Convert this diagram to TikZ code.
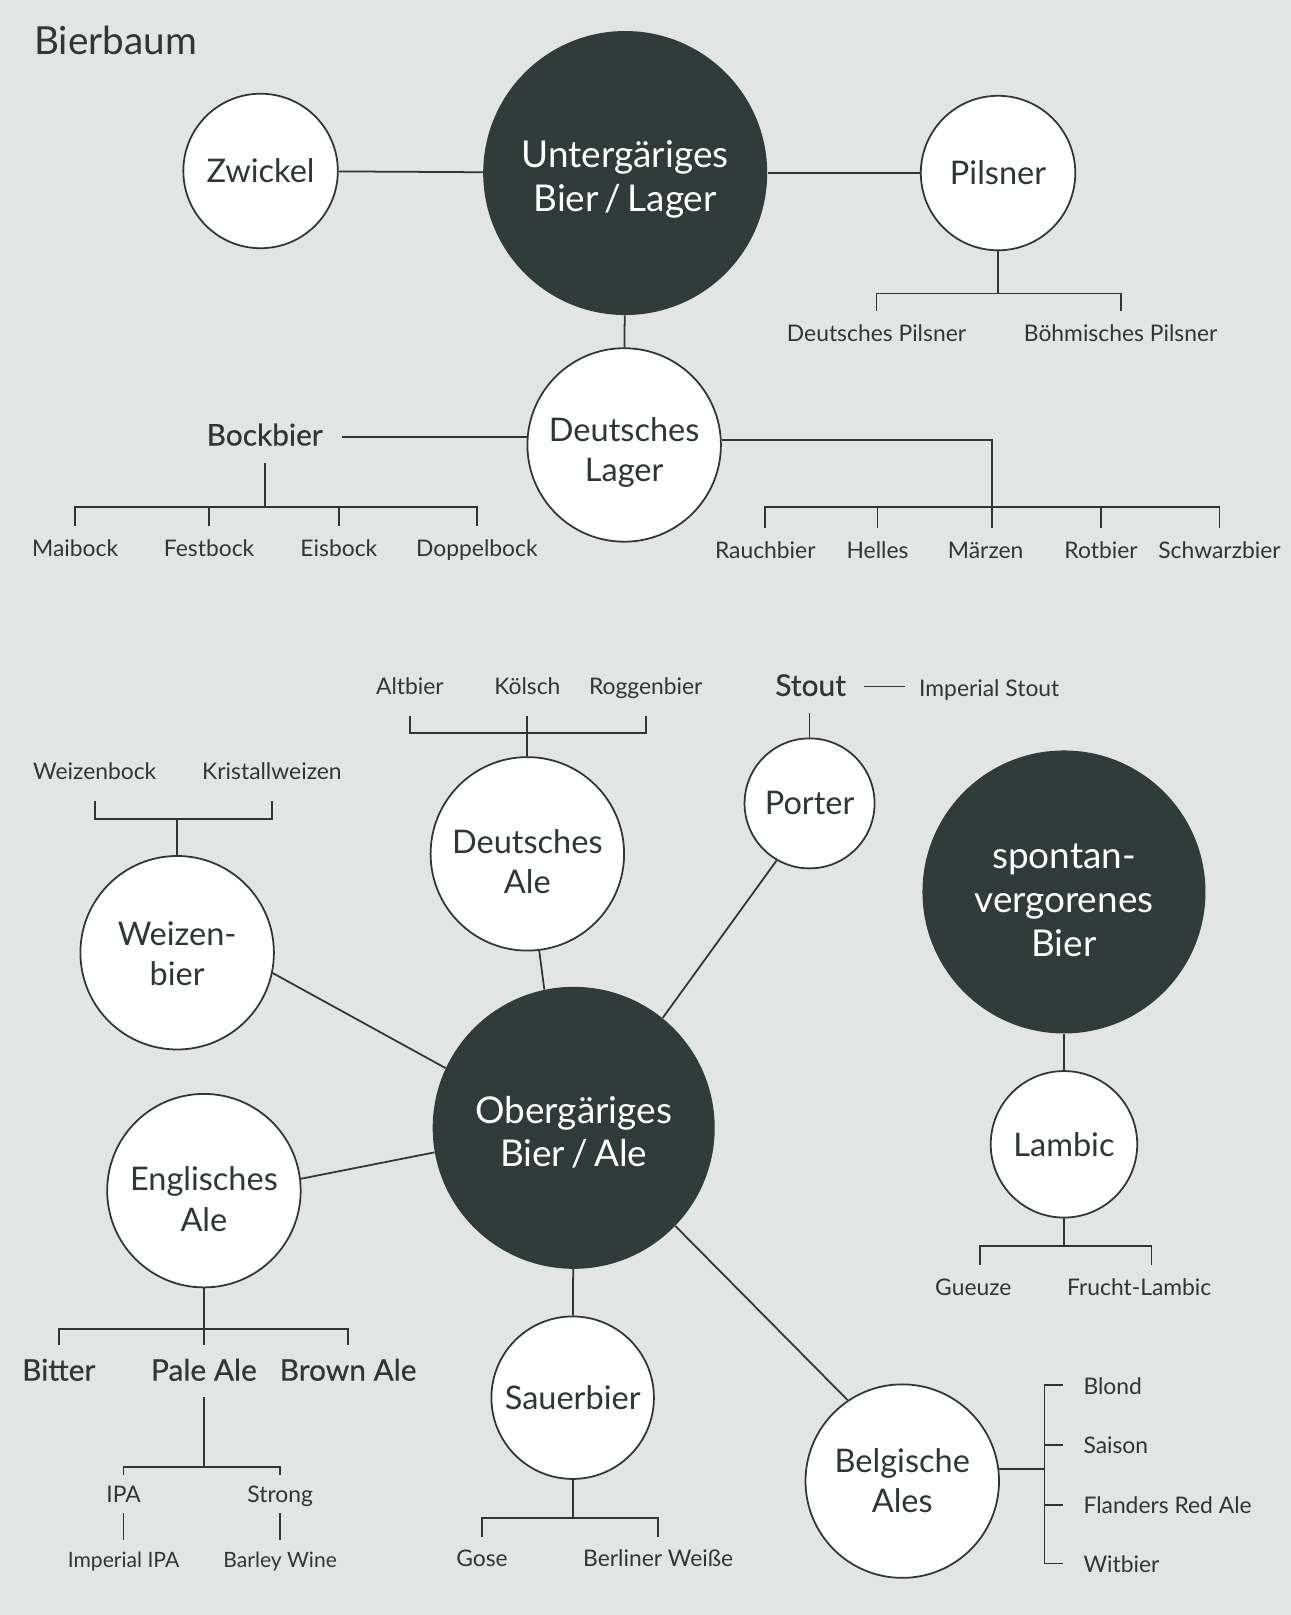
\documentclass[tikz,border=0pt]{standalone}
\usepackage{fontspec}
\setmainfont{Lato}
\newfontfamily\medfont[FakeBold=0.5]{Lato}
\usetikzlibrary{positioning}
\definecolor{ink}{HTML}{2E3735}
\definecolor{darkfill}{HTML}{2F3C3A}
\definecolor{paper}{HTML}{E2E5E4}

\begin{document}
\begin{tikzpicture}[x=0.0206cm,y=-0.0206cm,
      conn/.style={draw=ink,line width=1pt},
      darkcirc/.style={circle,fill=darkfill,text=white,align=center,inner sep=0pt,minimum size=5.68cm,font=\fontsize{21}{25}\selectfont},
      lightcirc/.style={circle,draw=ink,line width=1pt,fill=white,text=ink,align=center,inner sep=0pt,font=\fontsize{18.5}{23}\selectfont},
      lines/.style={text height=#1,text depth=0pt},
      rbig/.style={minimum size=3.87cm},
      rmid/.style={minimum size=3.25cm},
      rsmall/.style={minimum size=3.09cm},
      lbl/.style={text=ink,inner sep=0pt,text height=17pt,text depth=12pt,font=\fontsize{13}{15}\selectfont},
      lbltight/.style={text=ink,inner sep=0pt,text height=15.4pt,text depth=6pt,font=\fontsize{13}{15}\selectfont},
      lblside/.style={text=ink,inner xsep=11.5pt,inner ysep=0pt,text height=12pt,text depth=2pt,font=\fontsize{13}{15}\selectfont},
      lblmid/.style={text=ink,inner sep=0pt,text height=20pt,text depth=9pt,font=\medfont\fontsize{17}{20}\selectfont}]
    \path[use as bounding box,fill=paper] (0,0) rectangle (1253,1568);
    \node[anchor=base west,inner sep=0pt,text=ink,font=\fontsize{22}{26}\selectfont] (titel) at (33,53) {Bierbaum};

    \node[darkcirc,lines=43.5pt] (unter) at (607,168) {Untergäriges\\ Bier\,/\,Lager};
    \node[lightcirc,rsmall] (zwickel) at (253,166) {Zwickel};
    \node[lightcirc,rsmall] (pilsner) at (969,168) {Pilsner};
    \node[lightcirc,rbig,lines=42pt] (dlager) at (606,432) {Deutsches\\ Lager};
    \draw[conn] (zwickel) -- (unter);
    \draw[conn] (unter) -- (pilsner);
    \draw[conn] (unter) -- (dlager);

    \coordinate (pilsfork) at (969,285);
    \node[lbl,anchor=north] (dpils) at (851,302) {Deutsches Pilsner};
    \node[lbl,anchor=north] (bpils) at (1088,302) {Böhmisches Pilsner};
    \draw[conn] (pilsner) -- (pilsfork);
    \draw[conn] (dpils.north) |- (pilsfork) -| (bpils.north);

    \node[lblmid,inner xsep=11pt,text depth=10pt] (bock) at (257,424) {Bockbier};
    \draw[conn] (bock.east) -- (bock.east -| dlager.west);
    \coordinate (bockfork) at (257,492);
    \node[lbl,anchor=north] (maibock) at (73,511) {Maibock};
    \node[lbl,anchor=north] (festbock) at (203,511) {Festbock};
    \node[lbl,anchor=north] (eisbock) at (329,511) {Eisbock};
    \node[lbl,anchor=north] (doppel) at (463,511) {Doppelbock};
    \draw[conn] (bock) -- (bockfork);
    \draw[conn] (maibock.north) |- (bockfork) -| (doppel.north);
    \draw[conn] (festbock.north) -- (festbock.north |- bockfork);
    \draw[conn] (eisbock.north) -- (eisbock.north |- bockfork);

    \coordinate (lagerfork) at (963,492);
    \node[lbl,anchor=north] (rauch) at (743,513) {Rauchbier};
    \node[lbl,anchor=north] (helles) at (852,513) {Helles};
    \node[lbl,anchor=north] (maerz) at (957,513) {Märzen};
    \node[lbl,anchor=north] (rotbier) at (1069,513) {Rotbier};
    \node[lbl,anchor=north] (schwarz) at (1184,513) {Schwarzbier};
    \draw[conn] (dlager.3) -| (lagerfork |- maerz.north);
    \draw[conn] (rauch.north) |- (lagerfork) -| (schwarz.north);
    \draw[conn] (helles.north) -- (helles.north |- lagerfork);
    \draw[conn] (rotbier.north) -- (rotbier.north |- lagerfork);

    \node[darkcirc,minimum size=5.64cm,lines=44.5pt] (ober) at (557,1095) {Obergäriges\\ Bier\,/\,Ale};
    \node[darkcirc,minimum size=5.66cm,lines=73pt] (spontan) at (1033,866) {spontan-\\ vergorenes\\ Bier};
    \node[lightcirc,rbig,lines=45.5pt] (dale) at (512,829) {Deutsches\\ Ale};
    \node[lightcirc,minimum size=2.6cm] (porter) at (786,780) {Porter};
    \node[lightcirc,rbig,lines=37.5pt] (weizen) at (172,925) {Weizen-\\ bier};
    \node[lightcirc,rbig,lines=46pt] (engl) at (198,1156) {Englisches\\ Ale};
    \node[lightcirc,rmid] (sauer) at (556,1357) {Sauerbier};
    \node[lightcirc,rbig,lines=36pt] (belg) at (876,1438) {Belgische\\ Ales};
    \node[lightcirc,minimum size=2.93cm] (lambic) at (1033,1111) {Lambic};
    \draw[conn] (weizen.-12) -- (ober.155);
    \draw[conn] (engl.7) -- (ober.190);
    \draw[conn] (dale.-83) -- (ober.102);
    \draw[conn] (porter.-120) -- (ober.51);
    \draw[conn] (ober) -- (sauer);
    \draw[conn] (ober.-44) -- (belg.124);
    \draw[conn] (spontan) -- (lambic);

    \coordinate (dalefork) at (512,712);
    \node[lbl,anchor=south] (altbier) at (398,695) {Altbier};
    \node[lbl,anchor=south] (koelsch) at (512,695) {Kölsch};
    \node[lbl,anchor=south] (roggen) at (627,695) {Roggenbier};
    \draw[conn] (dale) -- (koelsch);
    \draw[conn] (altbier.south) |- (dalefork) -| (roggen.south);

    \node[lblmid,anchor=south,text depth=9.4pt,inner xsep=10pt] (stout) at (787,692) {Stout};
    \node[lbl,inner xsep=8pt,right=0.82cm of stout,yshift=-3pt] (impstout) {Imperial Stout};
    \draw[conn] (porter) -- (porter |- stout.south);
    \draw[conn] (stout.east) -- (stout.east -| impstout.west);

    \coordinate (weizfork) at (172,795);
    \node[lbl,anchor=south] (wbock) at (92,778) {Weizenbock};
    \node[lbl,anchor=south] (kristall) at (264,778) {Kristallweizen};
    \draw[conn] (weizen) -- (weizfork);
    \draw[conn] (wbock.south) |- (weizfork) -| (kristall.south);

    \coordinate (englfork) at (198,1290);
    \node[lblmid,anchor=north] (bitter) at (57,1306) {Bitter};
    \node[lblmid,anchor=north] (paleale) at (198,1306) {Pale Ale};
    \node[lblmid,anchor=north] (brownale) at (338,1306) {Brown Ale};
    \draw[conn] (engl) -- (englfork);
    \draw[conn] (bitter.north) |- (englfork) -| (brownale.north);
    \draw[conn] (paleale.north) -- (paleale.north |- englfork);

    \coordinate (palefork) at (198,1424);
    \node[lbltight,anchor=north] (ipa) at (120,1432) {IPA};
    \node[lbltight,anchor=north] (strong) at (272,1432) {Strong};
    \node[lbltight,anchor=north,font=\fontsize{12}{14}\selectfont] (impipa) at (120,1495) {Imperial IPA};
    \node[lbltight,anchor=north,font=\fontsize{12}{14}\selectfont] (barley) at (272,1495) {Barley Wine};
    \draw[conn] (paleale.south) -- (palefork);
    \draw[conn] (ipa.north) |- (palefork) -| (strong.north);
    \draw[conn] (ipa) -- (impipa);
    \draw[conn] (strong) -- (barley);

    \coordinate (sauerfork) at (556,1474);
    \node[lbl,anchor=north] (gose) at (468,1492) {Gose};
    \node[lbl,anchor=north] (berliner) at (639,1492) {Berliner Weiße};
    \draw[conn] (sauer) -- (sauerfork);
    \draw[conn] (gose.north) |- (sauerfork) -| (berliner.north);

    \coordinate (lambicfork) at (1033,1210);
    \node[lbl,anchor=north] (gueuze) at (945,1228) {Gueuze};
    \node[lbl,anchor=north] (frucht) at (1106,1228) {Frucht-Lambic};
    \draw[conn] (lambic) -- (lambicfork);
    \draw[conn] ([xshift=4pt]gueuze.north) |- (lambicfork) -| ([xshift=7pt]frucht.north);

    \coordinate (belgfork) at (1014,1427);
    \node[lblside,anchor=west] (blond) at (1032,1345) {Blond};
    \node[lblside,anchor=west] (saison) at (1032,1403) {Saison};
    \node[lblside,anchor=west] (flanders) at (1032,1461) {Flanders Red Ale};
    \node[lblside,anchor=west] (witbier) at (1032,1518) {Witbier};
    \draw[conn] (belg.7) -- (belg.7 -| belgfork);
    \draw[conn] (blond.west) -| (belgfork) |- (witbier.west);
    \draw[conn] (saison.west) -- (saison.west -| belgfork);
    \draw[conn] (flanders.west) -- (flanders.west -| belgfork);
  \end{tikzpicture}
\end{document}
